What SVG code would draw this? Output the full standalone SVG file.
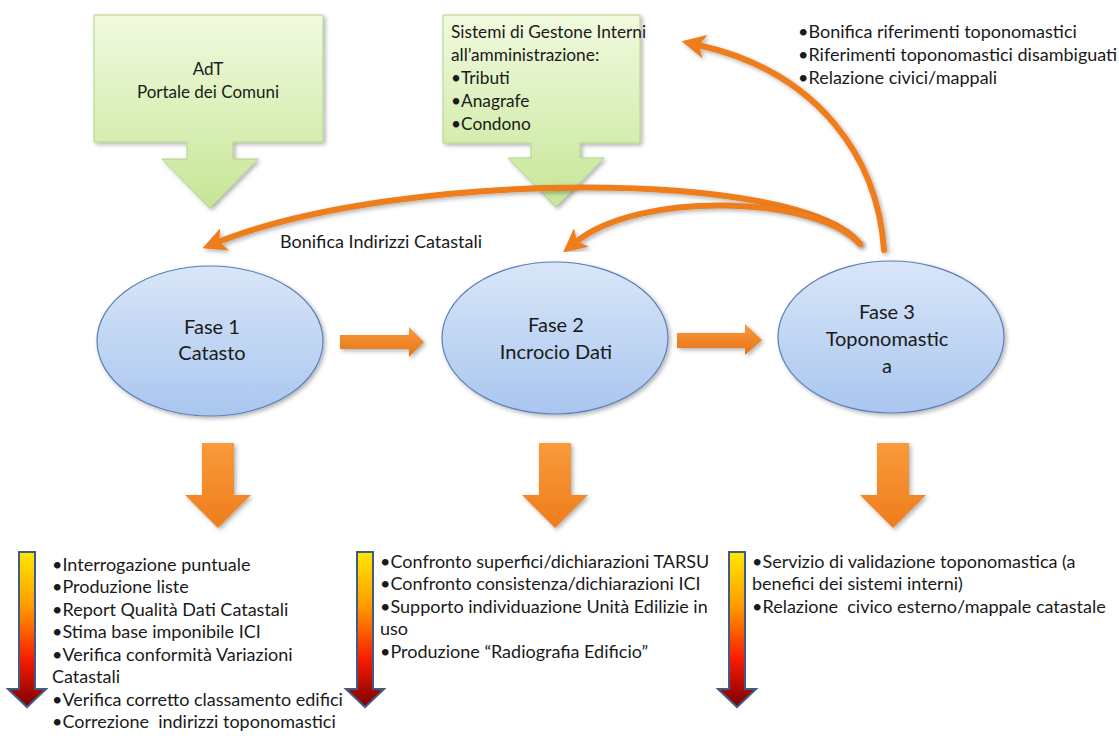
<svg xmlns="http://www.w3.org/2000/svg" width="1119" height="736" viewBox="0 0 1119 736">
<defs>
<linearGradient id="gGreen" x1="0" y1="0" x2="0" y2="1">
<stop offset="0" stop-color="#F1FADF"/><stop offset="1" stop-color="#C6E696"/>
</linearGradient>
<linearGradient id="gBlue" x1="0" y1="0" x2="0" y2="1">
<stop offset="0" stop-color="#D9E6F8"/><stop offset="1" stop-color="#A9C6EF"/>
</linearGradient>
<linearGradient id="gOrange" x1="0" y1="0" x2="0" y2="1">
<stop offset="0" stop-color="#F99A3A"/><stop offset="1" stop-color="#EE7D1C"/>
</linearGradient>
<linearGradient id="gOrangeH" x1="0" y1="0" x2="0" y2="1">
<stop offset="0" stop-color="#F99A3A"/><stop offset="1" stop-color="#E67418"/>
</linearGradient>
<linearGradient id="gHeat" x1="0" y1="0" x2="0" y2="1">
<stop offset="0" stop-color="#FFE800"/><stop offset="0.35" stop-color="#FF9A00"/><stop offset="0.7" stop-color="#F61A00"/><stop offset="1" stop-color="#7A0000"/>
</linearGradient>
<filter id="sh" x="-10%" y="-10%" width="130%" height="130%">
<feDropShadow dx="2" dy="2" stdDeviation="2" flood-color="#000" flood-opacity="0.3"/>
</filter>
<marker id="ah" viewBox="0 0 10 10" refX="3" refY="5" markerWidth="4" markerHeight="4" orient="auto" markerUnits="strokeWidth">
<path d="M0 0 L10 5 L0 10 L2.5 5 Z" fill="#EE7D1C"/>
</marker>
<style>
text{font-family:Lato,"Open Sans","Liberation Sans",sans-serif;fill:#1a1a1a;white-space:pre}
.t17{font-size:17px}
.t175{font-size:17.3px}
.t18{font-size:18px}
.t20{font-size:20px}
.box{fill:url(#gGreen);stroke:#B3D38A;stroke-width:1;filter:url(#sh)}
.ell{fill:url(#gBlue);stroke:#5B7FB6;stroke-width:1.2;filter:url(#sh)}
.oarr{fill:url(#gOrange);filter:url(#sh)}
.harr{fill:url(#gOrangeH);filter:url(#sh)}
.heat{fill:url(#gHeat);stroke:#3E5C86;stroke-width:2}
.curve{fill:none;stroke:#EE7D1C;stroke-width:6;stroke-linecap:round;marker-end:url(#ah);filter:url(#sh)}
</style>
</defs>
<rect width="1119" height="736" fill="#fff"/>

<g id="adt">
<path class="box" d="M94 15 H323 V142 H233 V159 H258 L210 208 L162 159 H187 V142 H94 Z"/>
<text class="t17" x="208" y="75" text-anchor="middle">AdT</text>
<text class="t17" x="208" y="98" text-anchor="middle">Portale dei Comuni</text>
</g>

<g id="sistemi">
<path class="box" d="M443 15 H640 V143 H580 V158 H604 L556 207 L508 158 H531 V143 H443 Z"/>
<text class="t175" x="451" y="38">Sistemi di Gestone Interni</text>
<text class="t175" x="451" y="61">all’amministrazione:</text>
<text class="t175" x="451" y="84">•Tributi</text>
<text class="t175" x="451" y="107">•Anagrafe</text>
<text class="t175" x="451" y="130">•Condono</text>
</g>

<g id="note-topo">
<text class="t18" x="798" y="38">•Bonifica riferimenti toponomastici</text>
<text class="t18" x="798" y="61">•Riferimenti toponomastici disambiguati</text>
<text class="t18" x="798" y="84">•Relazione civici/mappali</text>
</g>

<g id="connectors">
<path class="curve" d="M884 250 C878 160 820 72 698 45"/>
<path class="curve" d="M860 244 C800 168 400 170 218 242"/>
<path class="curve" d="M860 244 C818 196 640 190 576 242"/>
<path class="harr" d="M340 335 H409 V327 L424 342 L409 357 V349 H340 Z"/>
<path class="harr" d="M677 333 H745 V324 L762 340 L745 355 V348 H677 Z"/>
<path class="oarr" d="M202 443 H234 V495 H251 L218 528 L185 495 H202 Z"/>
<path class="oarr" d="M539 443 H571 V495 H588 L555 528 L522 495 H539 Z"/>
<path class="oarr" d="M877 443 H909 V495 H926 L893 528 L860 495 H877 Z"/>
<path class="heat" d="M19 552 H35 V689 H46 L27 707 L8 689 H19 Z"/>
<path class="heat" d="M357 552 H373 V689 H384 L365 707 L346 689 H357 Z"/>
<path class="heat" d="M729 552 H745 V689 H756 L737 707 L718 689 H729 Z"/>
</g>
<text class="t18" x="280" y="248">Bonifica Indirizzi Catastali</text>

<g id="fase1">
<ellipse class="ell" cx="210" cy="341" rx="113" ry="75"/>
<text class="t20" x="212" y="334" text-anchor="middle">Fase 1</text>
<text class="t20" x="212" y="360" text-anchor="middle">Catasto</text>
</g>
<g id="fase2">
<ellipse class="ell" cx="555" cy="338" rx="113" ry="76"/>
<text class="t20" x="556" y="332" text-anchor="middle">Fase 2</text>
<text class="t20" x="556" y="359" text-anchor="middle">Incrocio Dati</text>
</g>
<g id="fase3">
<ellipse class="ell" cx="891" cy="337" rx="113" ry="76"/>
<text class="t20" x="887" y="319" text-anchor="middle">Fase 3</text>
<text class="t20" x="887" y="346" text-anchor="middle">Toponomastic</text>
<text class="t20" x="887" y="373" text-anchor="middle">a</text>
</g>

<g id="out1">
<text class="t18" x="52" y="571">•Interrogazione puntuale</text>
<text class="t18" x="52" y="593">•Produzione liste</text>
<text class="t18" x="52" y="616">•Report Qualità Dati Catastali</text>
<text class="t18" x="52" y="638">•Stima base imponibile ICI</text>
<text class="t18" x="52" y="661">•Verifica conformità Variazioni</text>
<text class="t18" x="52" y="683">Catastali</text>
<text class="t18" x="52" y="706">•Verifica corretto classamento edifici</text>
<text class="t18" x="52" y="728">•Correzione  indirizzi toponomastici</text>
</g>
<g id="out2">
<text class="t18" x="380" y="568">•Confronto superfici/dichiarazioni TARSU</text>
<text class="t18" x="380" y="590">•Confronto consistenza/dichiarazioni ICI</text>
<text class="t18" x="380" y="613">•Supporto individuazione Unità Edilizie in</text>
<text class="t18" x="380" y="635">uso</text>
<text class="t18" x="380" y="658">•Produzione “Radiografia Edificio”</text>
</g>
<g id="out3">
<text class="t18" x="752" y="568">•Servizio di validazione toponomastica (a</text>
<text class="t18" x="752" y="590">benefici dei sistemi interni)</text>
<text class="t18" x="752" y="613">•Relazione  civico esterno/mappale catastale</text>
</g>
</svg>
